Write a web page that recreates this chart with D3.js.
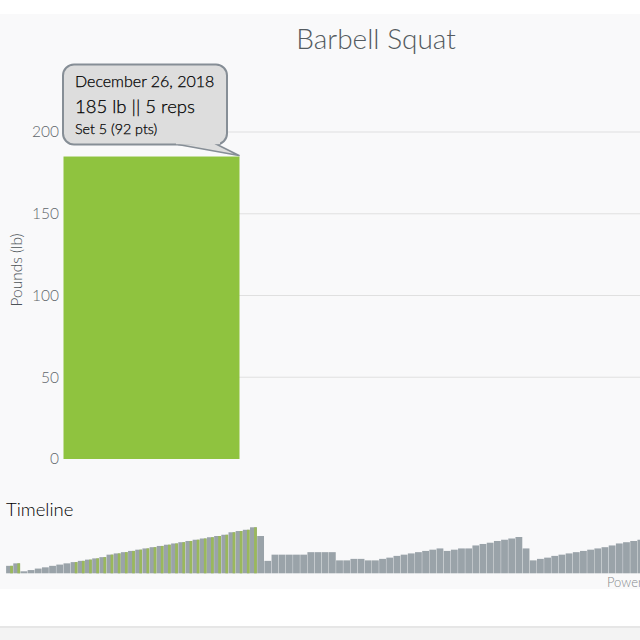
<!DOCTYPE html>
<html>
<head>
<meta charset="utf-8">
<script src="https://cdn.jsdelivr.net/npm/d3@7"></script>
<style>
    html, body { margin: 0; padding: 0; background: #fff; overflow: hidden; }
    text { font-family: Lato, sans-serif; }
</style>
</head>
<body>
<svg id="chart" width="640" height="640"></svg>
<script>
var setLabels = ['Set 5'];
var setPounds = [185];
var poundTicks = [0, 50, 100, 150, 200];
var gridTicks = [50, 100, 150, 200];

// one value per set in the strip at the bottom
var timelinePounds = [30, 40, 8, 13, 19, 24, 30, 35, 40, 45, 50, 55, 60, 65, 75, 80, 85, 90, 95, 100,
    105, 110, 115, 120, 125, 130, 135, 140, 145, 150, 155, 165, 170, 175, 185, 150, 50, 75, 75, 75,
    75, 75, 85, 85, 85, 85, 52, 52, 58, 58, 52, 52, 58, 63, 70, 75, 80, 85, 90, 95,
    100, 90, 95, 100, 100, 112, 118, 123, 130, 135, 140, 146, 100, 52, 58, 63, 70, 75, 80, 85,
    90, 95, 100, 105, 112, 120, 125, 130, 135];
// bars of the current workout, with a green stripe on their right side
var selectedBars = [0, 1, 9, 10, 11, 12, 13, 14, 15, 16, 17, 18, 19, 20, 21, 22, 23, 24, 25, 26, 27, 28, 29,
    30, 31, 32, 33, 34];

var tooltipLines = ['December 26, 2018', '185 lb || 5 reps', 'Set 5 (92 pts)'];

var svg = d3.select('#chart');
var green = '#8fc33f';
var gray = '#9aa3a9';

// page background
svg.append('rect').attr('x', 0).attr('y', 14).attr('width', 640).attr('height', 575).attr('fill', '#f9f9fa');
svg.append('rect').attr('x', 0).attr('y', 626).attr('width', 640).attr('height', 2).attr('fill', '#e6e6e6');
svg.append('rect').attr('x', 0).attr('y', 628).attr('width', 640).attr('height', 12).attr('fill', '#f3f3f3');

svg.append('text').attr('x', 376).attr('y', 49).attr('text-anchor', 'middle')
    .attr('font-size', 28).attr('font-weight', 300).attr('fill', '#545b60').text('Barbell Squat');

// main chart
var y = d3.scaleLinear().domain([0, 200]).range([459, 132]);
var x = d3.scaleBand().domain(setLabels).range([63.5, 239.5]);

svg.append('g').selectAll('line').data(gridTicks).enter().append('line')
    .attr('x1', 64).attr('x2', 640)
    .attr('y1', function(d) { return y(d); }).attr('y2', function(d) { return y(d); })
    .attr('stroke', '#e0e0e0').attr('stroke-width', 1.2);

var yAxis = svg.append('g').attr('transform', 'translate(64,0)')
    .call(d3.axisLeft(y).tickValues(poundTicks).tickSize(0).tickPadding(5));
yAxis.select('.domain').remove();
yAxis.selectAll('text').attr('font-size', 15.5).attr('font-weight', 300).attr('fill', '#5f666b')
    .attr('font-family', 'Lato, sans-serif');

svg.append('text').attr('transform', 'translate(22,270) rotate(-90)').attr('text-anchor', 'middle')
    .attr('font-size', 15.5).attr('font-weight', 300).attr('fill', '#4c5358').text('Pounds (lb)');

svg.append('g').selectAll('rect').data(setPounds).enter().append('rect')
    .attr('x', function(d, i) { return x(setLabels[i]); })
    .attr('y', function(d) { return y(d); })
    .attr('width', x.bandwidth())
    .attr('height', function(d) { return y(0) - y(d); })
    .attr('fill', green);

// tooltip
var tip = svg.append('g');
tip.append('rect').attr('x', 63).attr('y', 64.5).attr('width', 164).attr('height', 80).attr('rx', 11)
    .attr('fill', '#dddddd').attr('stroke', '#868e96').attr('stroke-width', 2);
tip.append('path').attr('d', 'M178,144.5L239,155.5L215,143.5')
    .attr('fill', '#dddddd').attr('stroke', '#868e96').attr('stroke-width', 1.6).attr('stroke-linejoin', 'round');
tip.append('rect').attr('x', 176).attr('y', 140).attr('width', 44).attr('height', 4.2).attr('fill', '#dddddd');

var tipSizes = [16, 18.5, 14.3];
var tipBase = [87, 113, 134];
tip.selectAll('text').data(tooltipLines).enter().append('text')
    .attr('x', 75)
    .attr('y', function(d, i) { return tipBase[i]; })
    .attr('font-size', function(d, i) { return tipSizes[i]; })
    .attr('font-weight', 300)
    .attr('fill', '#000').attr('stroke', '#000').attr('stroke-width', 0.25)
    .text(function(d) { return d; });

// timeline
svg.append('text').attr('x', 6).attr('y', 516).attr('font-size', 18.5).attr('font-weight', 300)
    .attr('fill', '#000').text('Timeline');

var tx = d3.scaleBand().domain(d3.range(timelinePounds.length))
    .range([6.1, 6.1 + 7.17 * timelinePounds.length]).paddingInner(0.05);
var ty = d3.scaleLinear().domain([0, 185]).range([573.3, 527.3]);

svg.append('g').selectAll('rect').data(timelinePounds).enter().append('rect')
    .attr('x', function(d, i) { return tx(i); })
    .attr('y', function(d) { return ty(d); })
    .attr('width', tx.bandwidth())
    .attr('height', function(d) { return ty(0) - ty(d); })
    .attr('fill', gray);

svg.append('g').selectAll('rect').data(selectedBars).enter().append('rect')
    .attr('x', function(d) { return tx(d) + tx.bandwidth() * 0.6; })
    .attr('y', function(d) { return ty(timelinePounds[d]); })
    .attr('width', tx.bandwidth() * 0.4)
    .attr('height', function(d) { return ty(0) - ty(timelinePounds[d]); })
    .attr('fill', '#9ab85c');

svg.append('text').attr('x', 607).attr('y', 587).attr('font-size', 13).attr('font-weight', 300)
    .attr('fill', '#85898d').text('Power');
</script>
</body>
</html>
